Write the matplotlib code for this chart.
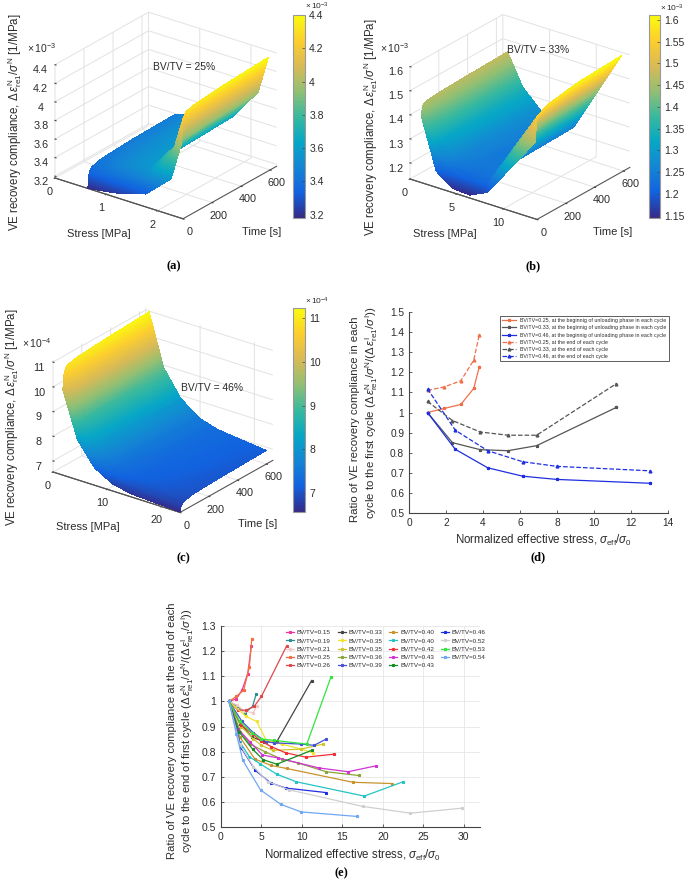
import numpy as np
import matplotlib
matplotlib.use('Agg')
import matplotlib.pyplot as plt
from matplotlib.cm import ScalarMappable
from matplotlib.colors import LinearSegmentedColormap, Normalize
from mpl_toolkits.mplot3d import proj3d

W, H = 685, 880
plt.rcParams['font.family'] = ['Liberation Sans', 'DejaVu Sans']
plt.rcParams['mathtext.fontset'] = 'custom'
plt.rcParams['mathtext.rm'] = 'Liberation Sans'
plt.rcParams['mathtext.it'] = 'Liberation Sans:italic'
plt.rcParams['mathtext.fallback'] = 'stixsans'
plt.rcParams['text.color'] = '#2b2b2b'
plt.rcParams['grid.color'] = '#e2e2e2'
plt.rcParams['grid.linewidth'] = 0.7
plt.rcParams['axes.edgecolor'] = '#444444'
plt.rcParams['xtick.color'] = '#444444'
plt.rcParams['ytick.color'] = '#444444'
plt.rcParams['xtick.labelcolor'] = '#2b2b2b'
plt.rcParams['ytick.labelcolor'] = '#2b2b2b'

parula = LinearSegmentedColormap.from_list('parula', ['#352A87', '#1262DF', '#1485D4', '#06A7C6', '#38B99E',
                                                      '#92BF73', '#D9BA56', '#FCCE2E', '#F9FB0E'])

# surfaces: rows are times, columns are stress levels
time_s = [0, 10, 30, 100, 300, 600]

stress_a = [0.64, 1.22, 1.78, 2.27, 2.47]
comp_a = [[3.18, 3.23, 3.32, 3.57, 3.98],
          [3.35, 3.44, 3.51, 3.84, 4.24],
          [3.39, 3.49, 3.56, 3.90, 4.30],
          [3.42, 3.51, 3.59, 3.93, 4.33],
          [3.44, 3.53, 3.61, 3.96, 4.36],
          [3.45, 3.55, 3.63, 3.98, 4.39]]

stress_b = [1.2, 2.8, 4.6, 6.4, 8.3, 13.4]
comp_b = [[1.41, 1.20, 1.15, 1.145, 1.18, 1.45],
          [1.45, 1.29, 1.23, 1.21, 1.22, 1.53],
          [1.46, 1.31, 1.25, 1.23, 1.23, 1.56],
          [1.465, 1.33, 1.26, 1.24, 1.24, 1.58],
          [1.47, 1.34, 1.27, 1.245, 1.245, 1.60],
          [1.475, 1.35, 1.28, 1.25, 1.25, 1.61]]

stress_c = [1.8, 4.5, 7.65, 11.0, 14.4, 23.4]
comp_c = [[10.0, 8.17, 7.25, 6.83, 6.67, 6.57],
          [10.7, 8.75, 7.75, 7.25, 7.03, 6.82],
          [10.9, 8.90, 7.90, 7.38, 7.15, 6.92],
          [11.0, 9.00, 8.00, 7.45, 7.22, 7.00],
          [11.1, 9.08, 8.07, 7.52, 7.28, 7.05],
          [11.2, 9.12, 8.10, 7.55, 7.32, 7.10]]

# panel d
x_d25 = [1, 1.9, 2.8, 3.5, 3.8]
x_d33 = [1, 2.35, 3.85, 5.35, 6.9, 11.2]
x_d46 = [1, 2.5, 4.25, 6.15, 8, 13]
unload_d25 = [1, 1.02, 1.04, 1.12, 1.228]
unload_d33 = [1, 0.85, 0.815, 0.81, 0.835, 1.025]
unload_d46 = [1, 0.817, 0.725, 0.683, 0.667, 0.648]
end_d25 = [1.11, 1.127, 1.158, 1.26, 1.388]
end_d33 = [1.055, 0.96, 0.903, 0.887, 0.887, 1.143]
end_d46 = [1.118, 0.912, 0.81, 0.755, 0.732, 0.71]

# panel e
labels_e = ['0.15', '0.19', '0.21', '0.25', '0.26', '0.33', '0.35', '0.35', '0.36', '0.39',
            '0.40', '0.40', '0.42', '0.43', '0.43', '0.46', '0.52', '0.53', '0.54']
colors_e = ['#f0379c', '#2f8f8c', '#f2c9c2', '#f2703f', '#e0474c', '#444444', '#f2e32c', '#cfc52a', '#8aa435',
            '#4552d8', '#c9922a', '#25c3c6', '#f22f35', '#d332d6', '#128c22', '#1d2de6', '#cfcfcf', '#2fe63a',
            '#6fa8f2']
x_e = [[1, 1.9, 2.6, 3.3, 3.75],
       [1, 2, 3.0, 3.9, 4.35],
       [1, 2, 2.9, 4, 4.4],
       [1, 1.9, 2.8, 3.5, 3.8],
       [1, 2.1, 3.1, 4.1, 5, 8.1],
       [1, 2.35, 3.85, 5.35, 6.9, 11.2],
       [1, 3.1, 4.4, 5.6, 7.5, 9.9, 11.4],
       [1, 2.5, 4, 5, 6.4, 9.9, 12.6],
       [1, 2.4, 3.6, 5.4, 7.5, 9.5, 13, 17],
       [1, 2.6, 4, 5.5, 6.5, 9.9, 11.5, 13],
       [1, 2.3, 4.2, 6.2, 8.1, 16.3, 21.1],
       [1, 2.3, 3.5, 4.8, 6.9, 9.3, 17.7, 22.5],
       [1, 2.5, 3.9, 4.9, 6.2, 8, 10.5, 14],
       [1, 2.1, 3.6, 5.1, 7, 12.1, 15.7, 19.1],
       [1, 2.2, 3.9, 5.2, 6.9, 11.2],
       [1, 2.5, 4.25, 6.15, 8, 13],
       [1, 2.3, 4, 5.8, 8.4, 17.5, 23.4, 29.8],
       [1, 2.3, 3.8, 5, 6.5, 10.6, 13.6],
       [1, 1.9, 2.7, 4.9, 7.4, 9.9, 16.8]]
y_e = [[1, 1.01, 1.045, 1.11, 1.22],
       [1, 0.98, 0.955, 0.98, 1.03],
       [1, 0.985, 0.96, 0.955, 0.98],
       [1, 1.02, 1.045, 1.135, 1.25],
       [1, 0.965, 0.965, 0.98, 1.02, 1.22],
       [1, 0.91, 0.857, 0.84, 0.84, 1.083],
       [1, 0.94, 0.92, 0.845, 0.83, 0.81, 0.795],
       [1, 0.9, 0.85, 0.825, 0.805, 0.81, 0.83],
       [1, 0.88, 0.83, 0.8, 0.77, 0.755, 0.72, 0.705],
       [1, 0.92, 0.875, 0.84, 0.835, 0.83, 0.825, 0.85],
       [1, 0.86, 0.77, 0.745, 0.733, 0.678, 0.673],
       [1, 0.84, 0.78, 0.752, 0.71, 0.68, 0.623, 0.68],
       [1, 0.905, 0.87, 0.843, 0.82, 0.795, 0.778, 0.79],
       [1, 0.89, 0.838, 0.787, 0.775, 0.735, 0.72, 0.743],
       [1, 0.88, 0.81, 0.768, 0.75, 0.805],
       [1, 0.815, 0.725, 0.675, 0.655, 0.637],
       [1, 0.83, 0.74, 0.68, 0.648, 0.582, 0.555, 0.575],
       [1, 0.92, 0.875, 0.85, 0.845, 0.83, 1.098],
       [1, 0.87, 0.765, 0.647, 0.59, 0.56, 0.542]]

fig = plt.figure(figsize=(W / 100, H / 100), dpi=100)


def px_ax(x0, y0, x1, y1, **kw):
    return fig.add_axes([x0 / W, 1 - y1 / H, (x1 - x0) / W, (y1 - y0) / H], **kw)


def txt(x, y, s, **kw):
    kw.setdefault('ha', 'center')
    kw.setdefault('va', 'center')
    return fig.text(x / W, 1 - y / H, s, **kw)


def fine(values, n=24):
    # finer facets on the same read nodes, so the colour runs smoothly over each cell
    idx = np.linspace(0, len(values) - 1, (len(values) - 1) * n + 1)
    return np.interp(idx, np.arange(len(values)), values)


def place3d(ax, xlim, ylim, zlim, left, front):
    # move the 3d box so its two lower front corners land on the given pixels
    def corners():
        ax.apply_aspect()
        M = ax.get_proj()
        pts = []
        for xv in xlim:
            u, v, _ = proj3d.proj_transform(xv, ylim[0], zlim[0], M)
            pts.append(ax.transData.transform((u, v)))
        return pts
    for _ in range(3):
        a, b = corners()
        pos = ax.get_position()
        k = (front[0] - left[0]) / (b[0] - a[0])
        size = pos.width * W * k
        cx = pos.x0 * W + pos.width * W / 2
        cy = pos.y0 * H + pos.height * H / 2
        cx = left[0] + (cx - a[0]) * k
        cy = (H - left[1]) + (cy - a[1]) * k
        ax.set_position([(cx - size / 2) / W, (cy - size / 2) / H, size / W, size / H])


def surface(stress, comp, xlim, zlim, xticks, zticks, zticklabels, left, front, clim, bar, bar_ticks):
    ax = fig.add_axes([0.1, 0.7, 0.3, 0.3 * W / H], projection='3d', proj_type='ortho')
    ax.set_box_aspect((1, 0.97, 0.78))
    ax.view_init(elev=25, azim=-53)
    ylim = (0, 645)
    ax.set_xlim(*xlim)
    ax.set_ylim(*ylim)
    ax.set_zlim(*zlim)
    ax.set_xticks(xticks)
    ax.set_yticks([0, 200, 400, 600])
    ax.set_zticks(zticks)
    ax.set_zticklabels(zticklabels)
    ax.patch.set_alpha(0)
    for axis in (ax.xaxis, ax.yaxis, ax.zaxis):
        axis.set_pane_color((1, 1, 1, 0))
        axis.pane.set_edgecolor('#e2e2e2')
        axis.line.set_color('#555555')
        axis.line.set_linewidth(0.8)
        axis._axinfo['tick']['inward_factor'] = 0.1
        axis._axinfo['tick']['outward_factor'] = 0.0
    ax.tick_params(axis='x', labelsize=7.8, pad=-3)
    ax.tick_params(axis='y', labelsize=7.8, pad=-3)
    ax.tick_params(axis='z', labelsize=7.8, pad=-2)
    ax.zaxis._axinfo['juggled'] = (1, 0, 2)
    place3d(ax, xlim, ylim, zlim, left, front)

    sx = fine(stress)
    ty = fine(time_s)
    zz = np.array([fine(row) for row in comp])
    zz = np.array([fine(col) for col in zz.T]).T
    X, Y = np.meshgrid(sx, ty)
    norm = Normalize(*clim)
    ax.plot_surface(X, Y, zz, rstride=1, cstride=1, cmap=parula, norm=norm, linewidth=0, antialiased=False,
                    shade=False)

    cax = px_ax(*bar)
    cb = fig.colorbar(ScalarMappable(norm=norm, cmap=parula), cax=cax)
    cb.set_ticks(bar_ticks[0])
    cb.set_ticklabels(bar_ticks[1])
    cb.ax.tick_params(labelsize=7.5, length=2, width=0.5, direction='in', pad=3)
    cb.outline.set_edgecolor('#999999')
    cb.outline.set_linewidth(0.8)
    return ax


# (a)
surface(stress_a, comp_a, (0, 2.5), (3.18, 4.4), [0, 1, 2], [3.2, 3.4, 3.6, 3.8, 4, 4.2, 4.4],
        ['3.2', '3.4', '3.6', '3.8', '4', '4.2', '4.4'], (55, 178), (183, 219), (3.18, 4.4), (293, 15, 305, 218),
        ([3.2, 3.4, 3.6, 3.8, 4, 4.2, 4.4], ['3.2', '3.4', '3.6', '3.8', '4', '4.2', '4.4']))
# (b)
surface(stress_b, comp_b, (0, 13.6), (1.133, 1.6), [0, 5, 10], [1.2, 1.3, 1.4, 1.5, 1.6],
        ['1.2', '1.3', '1.4', '1.5', '1.6'], (410, 179), (537, 219), (1.145, 1.611), (649, 15, 660, 218),
        ([1.15, 1.2, 1.25, 1.3, 1.35, 1.4, 1.45, 1.5, 1.55, 1.6],
         ['1.15', '1.2', '1.25', '1.3', '1.35', '1.4', '1.45', '1.5', '1.55', '1.6']))
# (c)
surface(stress_c, comp_c, (0, 23.4), (6.55, 11.1), [0, 10, 20], [7, 8, 9, 10, 11],
        ['7', '8', '9', '10', '11'], (53, 472), (180, 512), (6.57, 11.23), (293, 308, 305, 512),
        ([7, 8, 9, 10, 11], ['7', '8', '9', '10', '11']))

ve_label = r'VE recovery compliance, $\Delta\,\epsilon_{\mathrm{re1}}^{\mathrm{N}}/\sigma^{\mathrm{N}}$ [1/MPa]'
txt(15, 122, ve_label, rotation=90, fontsize=8.3)
txt(371, 127, ve_label, rotation=90, fontsize=8.3)
txt(12, 417, ve_label, rotation=90, fontsize=8.3)
txt(99, 234, 'Stress [MPa]', fontsize=8)
txt(262, 232, 'Time [s]', fontsize=8)
txt(445, 234, 'Stress [MPa]', fontsize=8)
txt(613, 232, 'Time [s]', fontsize=8)
txt(88, 527, 'Stress [MPa]', fontsize=8)
txt(258, 524, 'Time [s]', fontsize=8)
txt(42, 48, r'$\times\,10^{-3}$', fontsize=7.5)
txt(395, 48, r'$\times\,10^{-3}$', fontsize=7.5)
txt(37, 343, r'$\times\,10^{-4}$', fontsize=7.5)
txt(317, 6, r'$\times\,10^{-3}$', fontsize=6)
txt(672, 8, r'$\times\,10^{-3}$', fontsize=6)
txt(317, 301, r'$\times\,10^{-4}$', fontsize=6)
txt(153, 67, 'BV/TV = 25%', ha='left', fontsize=7.4)
txt(507, 50, 'BV/TV = 33%', ha='left', fontsize=7.4)
txt(181, 388, 'BV/TV = 46%', ha='left', fontsize=7.4)
cap = dict(family='Liberation Serif', fontweight='bold', fontsize=9, color='black')
txt(174, 266, '(a)', **cap)
txt(533, 266, '(b)', **cap)
txt(183, 558, '(c)', **cap)
txt(538, 557, '(d)', **cap)
txt(341, 873, '(e)', **cap)

# (d)
ax = px_ax(409, 312, 668, 513)
ax.plot(x_d25, unload_d25, '-', color='#f0704a', lw=0.9, marker='*', ms=2.2,
        label='BV/TV=0.25, at the beginnig of unloading phase in each cycle')
ax.plot(x_d33, unload_d33, '-', color='#555555', lw=0.9, marker='*', ms=2.2,
        label='BV/TV=0.33, at the beginnig of unloading phase in each cycle')
ax.plot(x_d46, unload_d46, '-', color='#1f2fe0', lw=0.9, marker='*', ms=2.2,
        label='BV/TV=0.46, at the beginnig of unloading phase in each cycle')
ax.plot(x_d25, end_d25, '--', color='#f0704a', lw=0.9, marker='^', ms=2, label='BV/TV=0.25, at the end of each cycle')
ax.plot(x_d33, end_d33, '--', color='#555555', lw=0.9, marker='^', ms=2, label='BV/TV=0.33, at the end of each cycle')
ax.plot(x_d46, end_d46, '--', color='#1f2fe0', lw=0.9, marker='^', ms=2, label='BV/TV=0.46, at the end of each cycle')
ax.set_xlim(0, 14)
ax.set_ylim(0.5, 1.5)
ax.set_xticks(range(0, 15, 2))
ax.set_yticks(np.arange(0.5, 1.51, 0.1))
ax.set_yticklabels(['0.5', '0.6', '0.7', '0.8', '0.9', '1', '1.1', '1.2', '1.3', '1.4', '1.5'])
ax.tick_params(labelsize=7.3, length=2, width=0.6, direction='in')
ax.spines[['top', 'right']].set_visible(False)
leg = ax.legend(loc='upper left', bbox_to_anchor=(91 / 259, 1 - 4 / 201), fontsize=3.8, frameon=True, fancybox=False,
                framealpha=1, edgecolor='#444444', borderaxespad=0, handlelength=2.65, labelspacing=0.42)
leg.get_frame().set_linewidth(0.6)
txt(355, 419, 'Ratio of VE recovery compliance in each', rotation=90, fontsize=8.2)
txt(372, 413, r'cycle to the first cycle ($\Delta\,\epsilon_{\mathrm{re1}}^{\mathrm{N}}/\sigma^{\mathrm{N}}'
    r'/(\Delta\,\epsilon_{\mathrm{re1}}^{\mathrm{I}}/\sigma^{\mathrm{I}})$)', rotation=90, fontsize=8.2)
txt(543, 540, r'Normalized effective stress, $\sigma_{\mathrm{eff}}/\sigma_{\mathrm{0}}$', fontsize=8.3)

# (e)
ax = px_ax(221, 626, 480, 827)
for xs, ys, lab, col in zip(x_e, y_e, labels_e, colors_e):
    ax.plot(xs, ys, '-', color=col, lw=0.9, marker='*', ms=2, label='BV/TV=' + lab)
ax.set_xlim(0, 32)
ax.set_ylim(0.5, 1.3)
ax.set_xticks(range(0, 31, 5))
ax.set_yticks(np.arange(0.5, 1.31, 0.1))
ax.set_yticklabels(['0.5', '0.6', '0.7', '0.8', '0.9', '1', '1.1', '1.2', '1.3'])
ax.grid(color='#e6e6e6', lw=0.6)
ax.set_axisbelow(True)
ax.tick_params(labelsize=7.5, length=2, width=0.6, direction='in')
ax.spines[['top', 'right']].set_visible(False)
ax.legend(loc='upper left', bbox_to_anchor=(65 / 259, 1 - 4 / 201), ncols=4, fontsize=4.5, frameon=False,
          borderaxespad=0, handlelength=1.25, labelspacing=0.45, columnspacing=1.1, handletextpad=0.5, borderpad=0)
txt(172, 731, 'Ratio of VE recovery compliance at the end of each', rotation=90, fontsize=8.1)
txt(188, 731, r'cycle to the end of first cycle ($\Delta\,\epsilon_{\mathrm{re1}}^{\mathrm{N}}/\sigma^{\mathrm{N}}'
    r'/(\Delta\,\epsilon_{\mathrm{re1}}^{\mathrm{I}}/\sigma^{\mathrm{I}})$)', rotation=90, fontsize=8.1)
txt(352, 855, r'Normalized effective stress, $\sigma_{\mathrm{eff}}/\sigma_{\mathrm{0}}$', fontsize=8.3)

fig.savefig('out.png', dpi=100)
